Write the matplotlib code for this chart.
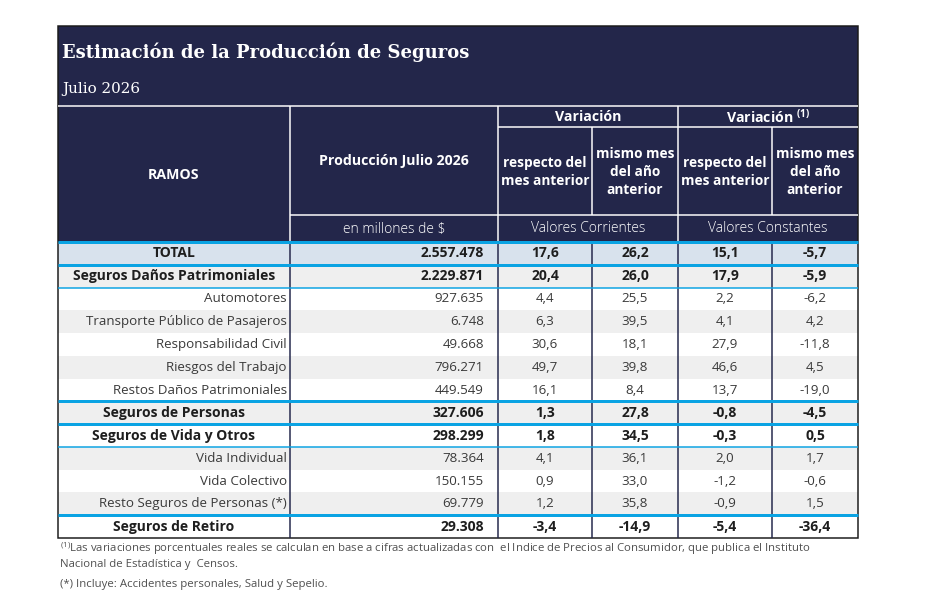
import matplotlib
matplotlib.use("Agg")
import matplotlib.pyplot as plt
from matplotlib.patches import Rectangle

# ---------------- data ----------------
title = "Estimación de la Producción de Seguros"
subtitle = "Julio 2026"
ramos = ["TOTAL", "Seguros Daños Patrimoniales", "Automotores",
         "Transporte Público de Pasajeros", "Responsabilidad Civil",
         "Riesgos del Trabajo", "Restos Daños Patrimoniales",
         "Seguros de Personas", "Seguros de Vida y Otros", "Vida Individual",
         "Vida Colectivo", "Resto Seguros de Personas (*)", "Seguros de Retiro"]
produccion = [2557478, 2229871, 927635, 6748, 49668, 796271, 449549,
              327606, 298299, 78364, 150155, 69779, 29308]
var_mes_corr = [17.6, 20.4, 4.4, 6.3, 30.6, 49.7, 16.1, 1.3, 1.8, 4.1, 0.9, 1.2, -3.4]
var_anio_corr = [26.2, 26.0, 25.5, 39.5, 18.1, 39.8, 8.4, 27.8, 34.5, 36.1, 33.0, 35.8, -14.9]
var_mes_const = [15.1, 17.9, 2.2, 4.1, 27.9, 46.6, 13.7, -0.8, -0.3, 2.0, -1.2, -0.9, -5.4]
var_anio_const = [-5.7, -5.9, -6.2, 4.2, -11.8, 4.5, -19.0, -4.5, 0.5, 1.7, -0.6, 1.5, -36.4]
# row kind: T = total, G = group (bold), I = item
kinds = ["T", "G", "I", "I", "I", "I", "I", "G", "G", "I", "I", "I", "G"]
shade = [True, True, False, True, False, True, False, True, False, True, False, True, False]
footnote1 = "Las variaciones porcentuales reales se calculan en base a cifras actualizadas con  el Indice de Precios al Consumidor, que publica el Instituto"
footnote2 = "Nacional de Estadística y  Censos."
footnote3 = "(*) Incluye: Accidentes personales, Salud y Sepelio."


def fmt_int(v):
    return f"{v:,}".replace(",", ".")


def fmt_dec(v):
    return f"{v:.1f}".replace(".", ",")


# ---------------- layout (pixels) ----------------
W, H = 937, 605
NAVY = "#23264a"
BLUE = "#0aa3e3"
TOTAL_BG = "#d8e2ed"
GRAY_BG = "#efefef"
SANS = ["Open Sans", "DejaVu Sans"]
SERIF = ["DejaVu Serif"]

fig = plt.figure(figsize=(W / 100, H / 100), dpi=100)
ax = fig.add_axes([0, 0, 1, 1])
ax.set_xlim(0, W)
ax.set_ylim(H, 0)
ax.axis("off")

L, R, TOP = 58, 858, 26
HB = 242          # header bottom
RH = 22.77        # row height
cols = [58, 290, 498, 592, 678, 772, 858]
n = len(ramos)
BOT = HB + RH * n


def px(w):
    return w * 0.72


# header background
ax.add_patch(Rectangle((L, TOP), R - L, HB - TOP, facecolor=NAVY, edgecolor="none"))
ax.text(62, 52, title, color="white", fontsize=13, fontweight="bold",
        family=SERIF, va="center", ha="left")
ax.text(62, 89, subtitle, color="white", fontsize=10.9, family=SERIF,
        va="center", ha="left")

# header white lines
wl = dict(color="white", lw=px(1.5), solid_capstyle="butt")
ax.plot([L, R], [106, 106], **wl)
for x in [290, 498, 678]:
    ax.plot([x, x], [106, HB], **wl)
for x in [592, 772]:
    ax.plot([x, x], [127, 215], **wl)
ax.plot([498, R], [127, 127], **wl)
ax.plot([290, R], [215, 215], **wl)

hb = dict(color="white", fontsize=10.2, fontweight="bold", family=SANS,
          ha="center", va="center")
hs = dict(color="white", fontsize=9.8, fontweight="bold", family=SANS,
          ha="center", va="center", linespacing=1.32)
ax.text(174, 175, "RAMOS", **hb)
ax.text(394, 161, "Producción Julio 2026", **hb)
ax.text(588, 117, "Variación", **hb)
ax.text(768, 117, "Variación $^{\\mathregular{(1)}}$", **hb)
ax.text(545, 172, "respecto del\nmes anterior", **hs)
ax.text(635, 172, "mismo mes\ndel año\nanterior", **hs)
ax.text(725, 172, "respecto del\nmes anterior", **hs)
ax.text(815, 172, "mismo mes\ndel año\nanterior", **hs)
hl = dict(color="white", fontsize=10, family=SANS, ha="center", va="center",
          fontweight="light")
ax.text(394, 229, "en millones de $", **hl)
ax.text(588, 229, "Valores Corrientes", **hl)
ax.text(768, 229, "Valores Constantes", **hl)

# body rows
series_all = [var_mes_corr, var_anio_corr, var_mes_const, var_anio_const]
for i in range(n):
    y0 = HB + RH * i
    yc = y0 + RH / 2
    k = kinds[i]
    bg = TOTAL_BG if k == "T" else (GRAY_BG if shade[i] else "white")
    ax.add_patch(Rectangle((L, y0), R - L, RH, facecolor=bg, edgecolor="none"))
    bold = k in ("T", "G")
    tc = "#1e1e1e" if bold else "#3a3a3a"
    fw = "bold" if bold else "normal"
    fs = 10 if bold else 9.6
    if bold:
        ax.text((cols[0] + cols[1]) / 2, yc, ramos[i], ha="center", va="center",
                fontsize=fs, fontweight=fw, color=tc, family=SANS)
    else:
        ax.text(cols[1] - 3, yc, ramos[i], ha="right", va="center",
                fontsize=fs, fontweight=fw, color=tc, family=SANS)
    ax.text(484, yc, fmt_int(produccion[i]), ha="right", va="center",
            fontsize=fs, fontweight=fw, color=tc, family=SANS)
    for j, series in enumerate(series_all):
        xc = (cols[2 + j] + cols[3 + j]) / 2
        ax.text(xc, yc, fmt_dec(series[i]), ha="center", va="center",
                fontsize=fs, fontweight=fw, color=tc, family=SANS)

# vertical body lines
for x in cols[1:-1]:
    ax.plot([x, x], [HB, BOT], color=NAVY, lw=px(1.5), solid_capstyle="butt")

# blue separators: (row boundary index, width px)
seps = [(0, 3.0), (1, 3.0), (2, 1.5), (7, 3.0), (8, 3.0), (9, 1.5), (12, 3.0)]
for idx, w in seps:
    y = HB + RH * idx
    ax.plot([L, R], [y, y], color=BLUE, lw=px(w), solid_capstyle="butt")

# outer border
ax.add_patch(Rectangle((L, TOP), R - L, BOT - TOP, facecolor="none",
                       edgecolor="#1a1a1a", lw=px(1.5)))

# footnotes
fc = "#505050"
ffs = 8.2
ax.text(60, 549, "$^{\\mathregular{(1)}}$" + footnote1, ha="left", va="center",
        fontsize=ffs, color=fc, family=SANS)
ax.text(60, 564, footnote2, ha="left", va="center", fontsize=ffs, color=fc, family=SANS)
ax.text(60, 585, footnote3, ha="left", va="center", fontsize=ffs, color=fc, family=SANS)

fig.savefig("out.png", dpi=100, facecolor="white")
